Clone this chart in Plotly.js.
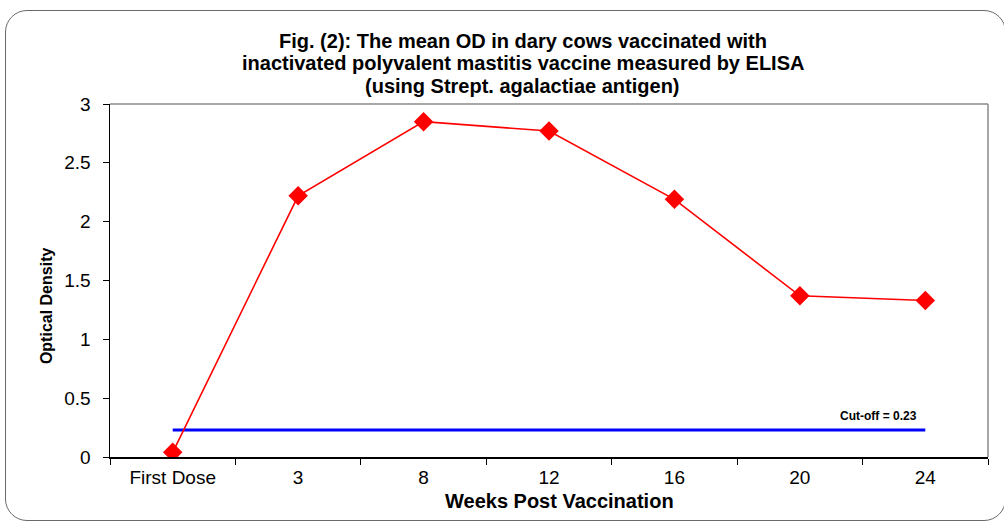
<!DOCTYPE html>
<html>
<head>
<meta charset="utf-8">
<script src="https://cdn.plot.ly/plotly-3.0.1.min.js"></script>
<style>
  html, body { margin: 0; padding: 0; background: #fff; overflow: hidden; }
  #wrap { position: relative; width: 1004px; height: 523px; overflow: hidden; }
  #frame { position: absolute; left: 5px; top: 10px; width: 1001px; height: 511px;
           border: 1.5px solid #6a6a6a; border-radius: 22px; box-sizing: border-box; z-index: 0; }
  #chart { position: absolute; left: 0; top: 0; width: 1004px; height: 523px; z-index: 1; }
</style>
</head>
<body>
<div id="wrap">
  <div id="frame"></div>
  <div id="chart"></div>
</div>
<script>
// ---- data ----
const categories = ["First Dose", "3", "8", "12", "16", "20", "24"];
const meanOD = [0.04, 2.22, 2.85, 2.77, 2.19, 1.37, 1.33];
const cutoffValue = 0.23;
const cutoffLabel = "Cut-off = 0.23";
const titleLines = [
  "Fig. (2): The mean OD in dary cows vaccinated with",
  "inactivated polyvalent mastitis vaccine measured by ELISA",
  "(using Strept. agalactiae antigen)"
];
const xTitle = "Weeks Post Vaccination";
const yTitle = "Optical Density";
const yTicks = [0, 0.5, 1, 1.5, 2, 2.5, 3];

// ---- traces ----
const odTrace = {
  x: categories,
  y: meanOD,
  mode: "lines+markers",
  line: { color: "#ff0000", width: 1.6 },
  marker: { symbol: "diamond", size: 15, color: "#ff0000" },
  showlegend: false
};
const cutoffTrace = {
  x: [categories[0], categories[categories.length - 1]],
  y: [cutoffValue, cutoffValue],
  mode: "lines",
  line: { color: "#0000ff", width: 3 },
  hoverinfo: "skip",
  showlegend: false
};

const FONT = "Liberation Sans, Arial, sans-serif";
const titleY = [1.179, 1.115, 1.051];
const annotations = titleLines.map((t, i) => ({
  text: "<b>" + t + "</b>",
  xref: "paper", yref: "paper",
  x: 0.470, y: titleY[i],
  xanchor: "center", yanchor: "middle",
  showarrow: false,
  font: { family: FONT, size: 20, color: "#000" }
}));
annotations.push({
  text: "<b>" + xTitle + "</b>",
  xref: "paper", yref: "paper",
  x: 0.5125, y: -0.124,
  xanchor: "center", yanchor: "middle",
  showarrow: false,
  font: { family: FONT, size: 20, color: "#000" }
});
annotations.push({
  text: "<b>" + yTitle + "</b>",
  xref: "paper", yref: "paper",
  x: -0.073, y: 0.43,
  xanchor: "center", yanchor: "middle",
  textangle: -90,
  showarrow: false,
  font: { family: FONT, size: 16, color: "#000" }
});
annotations.push({
  text: "<b>" + cutoffLabel + "</b>",
  xref: "x", yref: "y",
  x: categories.length - 1, y: cutoffValue,
  xanchor: "right", yanchor: "bottom",
  xshift: -6, yshift: 5,
  showarrow: false,
  font: { family: FONT, size: 12, color: "#000" }
});

const layout = {
  width: 1004, height: 523,
  margin: { l: 110, r: 16, t: 104, b: 66 },
  paper_bgcolor: "rgba(0,0,0,0)",
  plot_bgcolor: "#ffffff",
  font: { family: FONT, color: "#000" },
  xaxis: {
    type: "category",
    categoryorder: "array",
    categoryarray: categories,
    range: [-0.5, 6.5],
    showgrid: false, zeroline: false,
    showline: true, linecolor: "#000", linewidth: 1.5,
    ticks: "outside", tickson: "boundaries", ticklen: 6, tickcolor: "#000", tickwidth: 1,
    tickfont: { family: FONT, size: 19, color: "#000" },
    ticklabelstandoff: 3
  },
  yaxis: {
    range: [0, 3],
    tickvals: yTicks,
    showgrid: false, zeroline: false,
    showline: true, linecolor: "#000", linewidth: 1.5,
    ticks: "outside", ticklen: 6, tickcolor: "#000", tickwidth: 1,
    tickfont: { family: FONT, size: 19, color: "#000" },
    ticklabelstandoff: 8
  },
  shapes: [
    { type: "line", xref: "paper", yref: "paper", x0: 0, x1: 1, y0: 1, y1: 1,
      line: { color: "#8a8a8a", width: 1.5 } },
    { type: "line", xref: "paper", yref: "paper", x0: 1, x1: 1, y0: 0, y1: 1,
      line: { color: "#8a8a8a", width: 1.5 } }
  ],
  annotations: annotations,
  showlegend: false
};

Plotly.newPlot("chart", [cutoffTrace, odTrace], layout, { displayModeBar: false, staticPlot: true });
</script>
</body>
</html>
